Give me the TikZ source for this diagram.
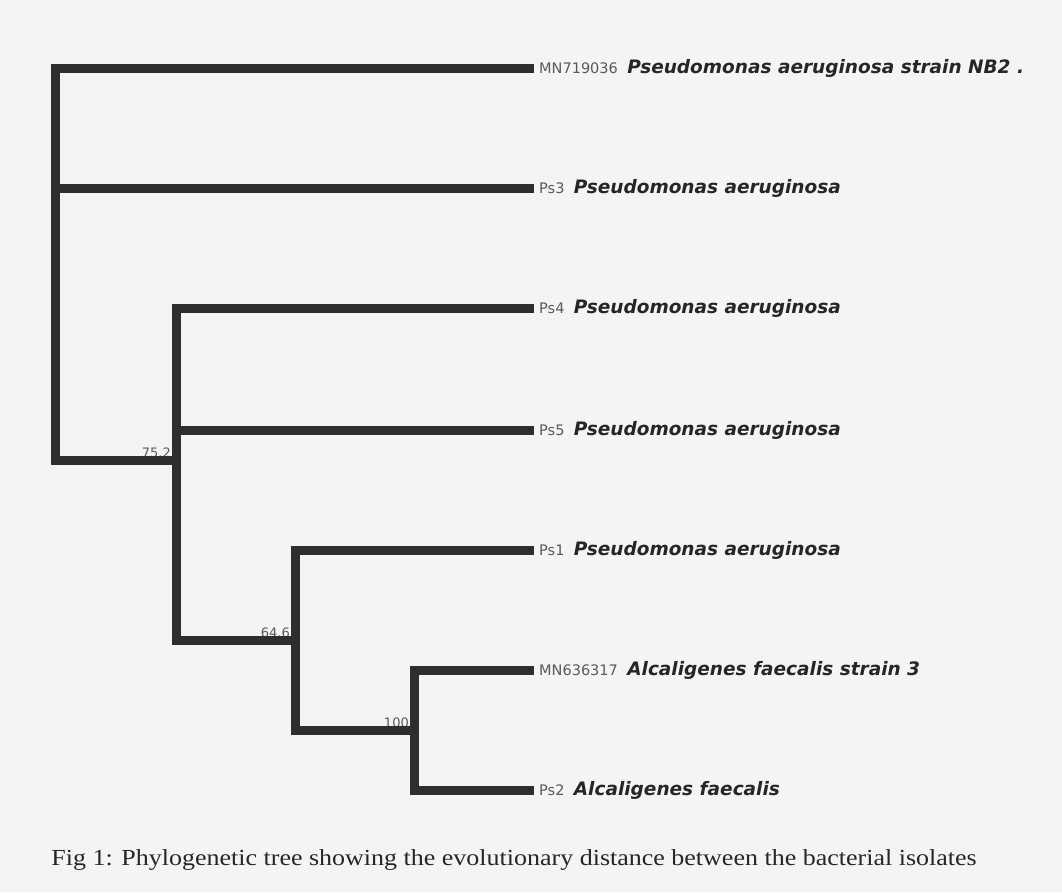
\documentclass[tikz,border=0pt]{standalone}
\usepackage{fontspec}
\setmainfont{Liberation Serif}
\newfontfamily\leaffont{DejaVu Sans}
\usetikzlibrary{positioning}
\definecolor{branchgray}{HTML}{2E2E2E}
\definecolor{idgray}{HTML}{5A5A5A}
\definecolor{paper}{HTML}{F4F4F4}
\tikzstyle{edge}=[
	draw=branchgray,
	line width=9pt,
	line join=miter,
	line cap=rect
]
\tikzstyle{leaf}=[
	anchor=west,
	inner sep=10pt,
	font=\leaffont\fontsize{18.5}{22}\selectfont\bfseries\itshape,
	text=black!85
]
\tikzstyle{boot}=[
	anchor=base east,
	inner sep=0pt,
	xshift=-5pt,
	yshift=3pt,
	font=\leaffont\fontsize{13}{15}\selectfont,
	text=idgray
]
\newcommand{\acc}[1]{{\fontsize{14.5}{17}\selectfont\mdseries\upshape\color{idgray}#1}\hspace{3pt}}

\begin{document}
\begin{tikzpicture}[x=1pt, y=-1pt]
\fill[paper] (0,0) rectangle (1062,892);
\useasboundingbox (0,0) rectangle (1062,892);

% leaves
\node[leaf] at (529,68) (nb2) {\acc{MN719036} Pseudomonas aeruginosa strain NB2 .};
\node[leaf] at (529,188) (ps3) {\acc{Ps3} Pseudomonas aeruginosa};
\node[leaf] at (529,308) (ps4) {\acc{Ps4} Pseudomonas aeruginosa};
\node[leaf] at (529,430) (ps5) {\acc{Ps5} Pseudomonas aeruginosa};
\node[leaf] at (529,550) (ps1) {\acc{Ps1} Pseudomonas aeruginosa};
\node[leaf] at (529,670) (af3) {\acc{MN636317} Alcaligenes faecalis strain 3};
\node[leaf] at (529,790) (ps2) {\acc{Ps2} Alcaligenes faecalis};

% internal nodes
\coordinate (root) at (55,460);
\coordinate (n75) at (176,460);
\coordinate (n64) at (295,640);
\coordinate (n100) at (414,730);

\node[boot] at (n75) {75.2};
\node[boot] at (n64) {64.6};
\node[boot] at (n100) {100};

\foreach \a/\b in {root/nb2, root/ps3, n75/ps4, n75/ps5, n64/ps1, n100/af3, n100/ps2}{
    \draw[edge] (\a) |- (\b.west);
}
\draw[edge] (root) -- (n75);
\draw[edge] (n75) |- (n64);
\draw[edge] (n64) |- (n100);

\node[font=\fontsize{23}{28}\selectfont, text=black!85, xscale=1.13] at (514,860) (cap)
    {Fig 1: Phylogenetic tree showing the evolutionary distance between the bacterial isolates};
\end{tikzpicture}
\end{document}
